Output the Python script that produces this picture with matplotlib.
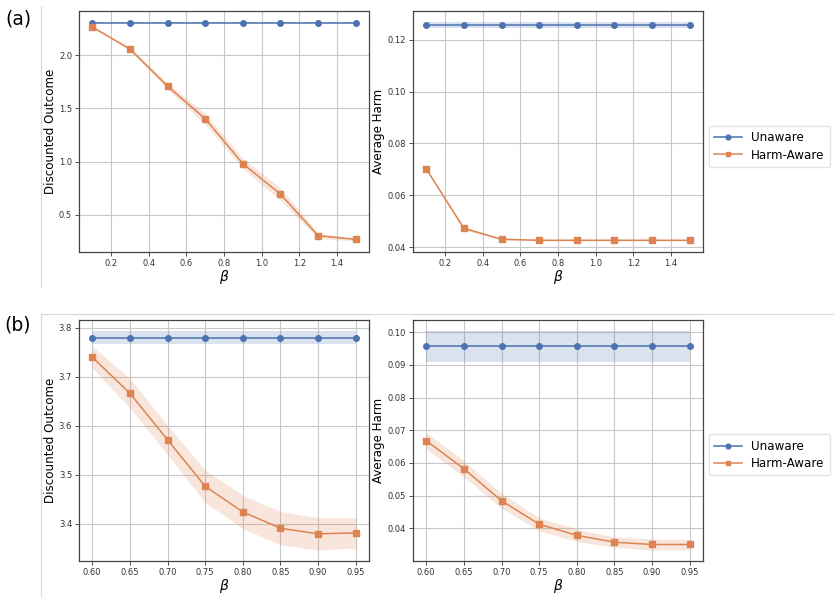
import matplotlib
matplotlib.use("Agg")
import matplotlib.pyplot as plt
from matplotlib.lines import Line2D
import numpy as np

# ---- data ----
beta_a = [0.1, 0.3, 0.5, 0.7, 0.9, 1.1, 1.3, 1.5]
a_out_unaware = [2.306] * 8
a_out_unaware_err = [0.006] * 8
a_out_harm = [2.265, 2.059, 1.709, 1.403, 0.981, 0.694, 0.304, 0.269]
a_out_harm_err = [0.01, 0.015, 0.03, 0.05, 0.05, 0.06, 0.025, 0.015]
a_harm_unaware = [0.1257] * 8
a_harm_unaware_err = [0.0012] * 8
a_harm_harm = [0.0702, 0.0472, 0.0430, 0.0426, 0.0426, 0.0426, 0.0426, 0.0426]
a_harm_harm_err = [0.0004, 0.0006, 0.0004, 0.0003, 0.0003, 0.0003, 0.0003, 0.0003]

beta_b = [0.60, 0.65, 0.70, 0.75, 0.80, 0.85, 0.90, 0.95]
b_out_unaware = [3.7797] * 8
b_out_unaware_err = [0.0136] * 8
b_out_harm = [3.740, 3.6664, 3.5715, 3.4766, 3.4244, 3.3912, 3.3797, 3.3817]
b_out_harm_err = [0.022, 0.030, 0.030, 0.033, 0.034, 0.034, 0.033, 0.031]
b_harm_unaware = [0.0957] * 8
b_harm_unaware_err = [0.0047] * 8
b_harm_harm = [0.0668, 0.0582, 0.0484, 0.0412, 0.0378, 0.0357, 0.0350, 0.0350]
b_harm_harm_err = [0.0025, 0.0025, 0.0023, 0.0020, 0.0019, 0.0016, 0.0017, 0.0016]

series_names = ["Unaware", "Harm-Aware"]
BLUE = "#4C72B0"
ORANGE = "#DD8452"

fig = plt.figure(figsize=(8.4, 6.02), dpi=100)
W, H = 840, 602

def add_ax(l, t, r, b):
    return fig.add_axes([l / W, 1 - b / H, (r - l) / W, (b - t) / H])

def draw(ax, x, yu, eu, yh, eh, ylabel):
    x = np.array(x)
    yu, eu, yh, eh = map(np.array, (yu, eu, yh, eh))
    ax.fill_between(x, yu - eu, yu + eu, color=BLUE, alpha=0.2, lw=0)
    ax.plot(x, yu, color=BLUE, marker='o', ms=4, lw=1.1, label=series_names[0])
    ax.fill_between(x, yh - eh, yh + eh, color=ORANGE, alpha=0.2, lw=0)
    ax.plot(x, yh, color=ORANGE, marker='s', ms=4, lw=1.1, label=series_names[1])
    ax.grid(True, color="#c8c8c8", lw=0.8)
    ax.set_axisbelow(True)
    ax.tick_params(labelsize=6, length=3, width=0.6, colors="#333333", pad=2)
    for s in ax.spines.values():
        s.set_color("#444444")
        s.set_linewidth(0.9)
    ax.set_xlabel(r"$\beta$", fontsize=10, labelpad=0)
    ax.set_ylabel(ylabel, fontsize=8.6, labelpad=1.5)

ax1 = add_ax(79, 11, 369, 252)
ax2 = add_ax(413, 11, 703, 252)
ax3 = add_ax(79, 320, 369, 561)
ax4 = add_ax(413, 320, 703, 561)

draw(ax1, beta_a, a_out_unaware, a_out_unaware_err, a_out_harm, a_out_harm_err, "Discounted Outcome")
draw(ax2, beta_a, a_harm_unaware, a_harm_unaware_err, a_harm_harm, a_harm_harm_err, "Average Harm")
draw(ax3, beta_b, b_out_unaware, b_out_unaware_err, b_out_harm, b_out_harm_err, "Discounted Outcome")
draw(ax4, beta_b, b_harm_unaware, b_harm_unaware_err, b_harm_harm, b_harm_harm_err, "Average Harm")

ax1.set_yticks([0.5, 1.0, 1.5, 2.0])
ax1.set_xticks([0.2, 0.4, 0.6, 0.8, 1.0, 1.2, 1.4])
ax2.set_xticks([0.2, 0.4, 0.6, 0.8, 1.0, 1.2, 1.4])
ax2.set_yticks([0.04, 0.06, 0.08, 0.10, 0.12])
ax3.set_xticks(beta_b)
ax4.set_xticks(beta_b)
ax3.set_yticks([3.4, 3.5, 3.6, 3.7, 3.8])
ax4.set_yticks([0.04, 0.05, 0.06, 0.07, 0.08, 0.09, 0.10])
for ax in (ax3, ax4):
    ax.set_xticklabels([f"{v:.2f}" for v in beta_b])
ax2.set_yticklabels([f"{v:.2f}" for v in [0.04, 0.06, 0.08, 0.10, 0.12]])
ax4.set_yticklabels([f"{v:.2f}" for v in [0.04, 0.05, 0.06, 0.07, 0.08, 0.09, 0.10]])

for ax, yc in ((ax2, 0.438), (ax4, 0.44)):
    leg = ax.legend(loc='center left', bbox_to_anchor=(1.02, yc), borderaxespad=0,
                    fontsize=8.6, frameon=True, edgecolor="#dddddd", fancybox=True,
                    handlelength=2.3, handletextpad=0.8, borderpad=0.45, labelspacing=0.35,
                    markerscale=0.85)

fig.text(5 / W, 1 - 19 / H, "(a)", fontsize=13.5, va='center', ha='left')
fig.text(4 / W, 1 - 325 / H, "(b)", fontsize=13.5, va='center', ha='left')

lc = "#d8d8d8"
fig.add_artist(Line2D([41 / W, 41 / W], [1 - 6 / H, 1 - 287 / H], color=lc, lw=0.8))
fig.add_artist(Line2D([41 / W, 41 / W], [1 - 314 / H, 1 - 596 / H], color=lc, lw=0.8))
fig.add_artist(Line2D([41 / W, 833 / W], [1 - 314 / H, 1 - 314 / H], color=lc, lw=0.8))

fig.savefig("out.png", dpi=100)
